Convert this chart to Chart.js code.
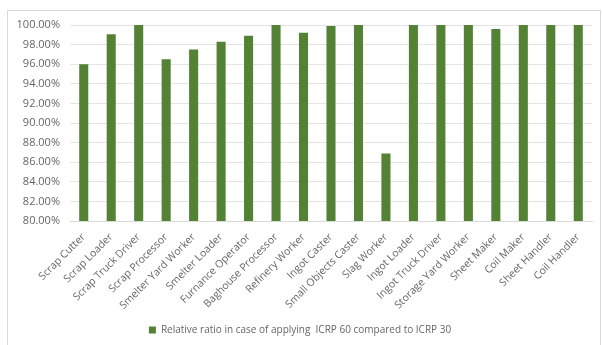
<!DOCTYPE html>
<html>
<head>
<meta charset="utf-8">
<script src="https://cdn.jsdelivr.net/npm/chart.js@4"></script>
<style>
  body { margin: 0; background: #fff; }
  #wrap { width: 602px; height: 345px; position: relative; }
</style>
</head>
<body>
<div id="wrap"><canvas id="myChart" width="602" height="345"></canvas></div>
<script>
var jobs = ['Scrap Cutter', 'Scrap Loader', 'Scrap Truck Driver', 'Scrap Processor',
    'Smelter Yard Worker', 'Smelter Loader', 'Furnance Operator', 'Baghouse Processor',
    'Refinery Worker', 'Ingot Caster', 'Small Objects Caster', 'Slag Worker',
    'Ingot Loader', 'Ingot Truck Driver', 'Storage Yard Worker', 'Sheet Maker',
    'Coil Maker', 'Sheet Handler', 'Coil Handler']
var ratio = [96.0, 99.05, 100, 96.5, 97.5, 98.3, 98.9, 100, 99.2, 99.9, 100, 86.9,
    100, 100, 100, 99.6, 100, 100, 100]
var seriesName = 'Relative ratio in case of applying  ICRP 60 compared to ICRP 30'

var grey = '#666666'
var font = 'Open Sans'

// light frame round the chart like the excel export
var framePlugin = {
    id: 'frame',
    beforeDraw: function (chart) {
        var ctx = chart.ctx
        ctx.save()
        ctx.strokeStyle = '#d9d9d9'
        ctx.lineWidth = 1
        ctx.beginPath()
        ctx.moveTo(7.5, 345)
        ctx.lineTo(7.5, 10.5)
        ctx.lineTo(600.5, 10.5)
        ctx.lineTo(600.5, 345)
        ctx.stroke()
        ctx.restore()
    }
}

var ctx = document.getElementById('myChart').getContext('2d')
var myChart = new Chart(ctx, {
    type: 'bar',
    data: {
        labels: jobs,
        datasets: [{
            label: seriesName,
            data: ratio,
            backgroundColor: '#548235',
            barPercentage: 0.33,
            categoryPercentage: 1
        }]
    },
    options: {
        responsive: false,
        animation: false,
        layout: {
            padding: { left: 8, right: 10, top: 25, bottom: 0 }
        },
        scales: {
            x: {
                grid: { display: false },
                border: { color: '#d9d9d9' },
                ticks: {
                    color: grey,
                    font: { family: font, size: 10.5 },
                    minRotation: 45,
                    maxRotation: 45,
                    autoSkip: false,
                    padding: 2
                },
                afterFit: function (s) { s.height = 100 }
            },
            y: {
                min: 80,
                max: 100,
                grid: { color: '#e4e4e4', drawTicks: false },
                border: { display: false },
                ticks: {
                    stepSize: 2,
                    color: grey,
                    padding: 10,
                    font: { family: font, size: 11 },
                    callback: function (v) { return v.toFixed(2) + '%' }
                },
                afterFit: function (s) { s.width = 62 }
            }
        },
        plugins: {
            legend: {
                position: 'bottom',
                labels: {
                    color: grey,
                    boxWidth: 7,
                    boxHeight: 7,
                    padding: 4,
                    font: { family: font, size: 10 }
                }
            },
            tooltip: { enabled: false }
        }
    },
    plugins: [framePlugin]
})
</script>
</body>
</html>
